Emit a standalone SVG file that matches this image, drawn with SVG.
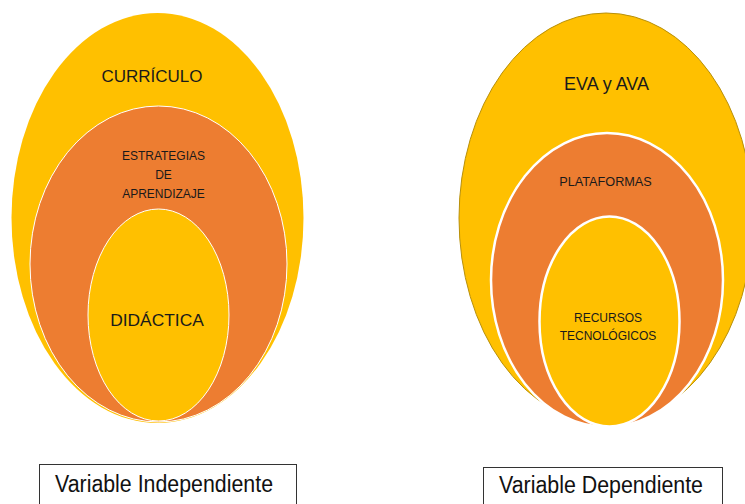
<svg xmlns="http://www.w3.org/2000/svg" width="745" height="504" viewBox="0 0 745 504">
<style>
.yel{fill:#FFC000}
.org{fill:#ED7D31}
.t{font-family:"Liberation Sans",Arial,sans-serif;fill:#1a1a1a;text-anchor:middle}
.box{fill:#fff;stroke:#333;stroke-width:1}
.lbl{font-family:"Liberation Sans",Arial,sans-serif;fill:#111;}
</style>
<rect width="745" height="504" fill="#fff"/>
<g id="curriculo">
<ellipse class="yel" cx="157.5" cy="218" rx="146" ry="205"/>
<text class="t" x="152" y="82" font-size="17">CURRÍCULO</text>
</g>
<g id="estrategias">
<ellipse class="org" cx="158.5" cy="264" rx="128.5" ry="158" stroke="#fff" stroke-width="1"/>
<text class="t" x="163.5" y="160" font-size="12">ESTRATEGIAS</text>
<text class="t" x="163.5" y="179" font-size="12">DE</text>
<text class="t" x="163.5" y="198" font-size="12">APRENDIZAJE</text>
</g>
<g id="didactica">
<ellipse class="yel" cx="158.5" cy="315" rx="70.5" ry="106" stroke="#fff" stroke-width="1"/>
<text class="t" x="157" y="326" font-size="17.4">DIDÁCTICA</text>
</g>
<g id="eva">
<ellipse class="yel" cx="606" cy="218" rx="147" ry="205" stroke="#B8900A" stroke-width="1"/>
<text class="t" x="606.5" y="90" font-size="18">EVA y AVA</text>
</g>
<g id="plataformas">
<ellipse class="org" cx="607" cy="280" rx="116" ry="147" stroke="#fff" stroke-width="2.5"/>
<text class="t" x="605.5" y="186" font-size="12.7">PLATAFORMAS</text>
</g>
<g id="recursos">
<ellipse class="yel" cx="609.5" cy="321.5" rx="70" ry="105" stroke="#fff" stroke-width="2.5"/>
<text class="t" x="608" y="322" font-size="12">RECURSOS</text>
<text class="t" x="608" y="340" font-size="12">TECNOLÓGICOS</text>
</g>
<g id="var-indep">
<rect class="box" x="39.5" y="464.5" width="257" height="45"/>
<text class="lbl" x="55" y="492" font-size="23" textLength="218" lengthAdjust="spacingAndGlyphs">Variable Independiente</text>
</g>
<g id="var-dep">
<rect class="box" x="483.5" y="467.5" width="239" height="45"/>
<text class="lbl" x="499" y="493" font-size="23" textLength="204" lengthAdjust="spacingAndGlyphs">Variable Dependiente</text>
</g>
<g id="connectors"></g>
</svg>
